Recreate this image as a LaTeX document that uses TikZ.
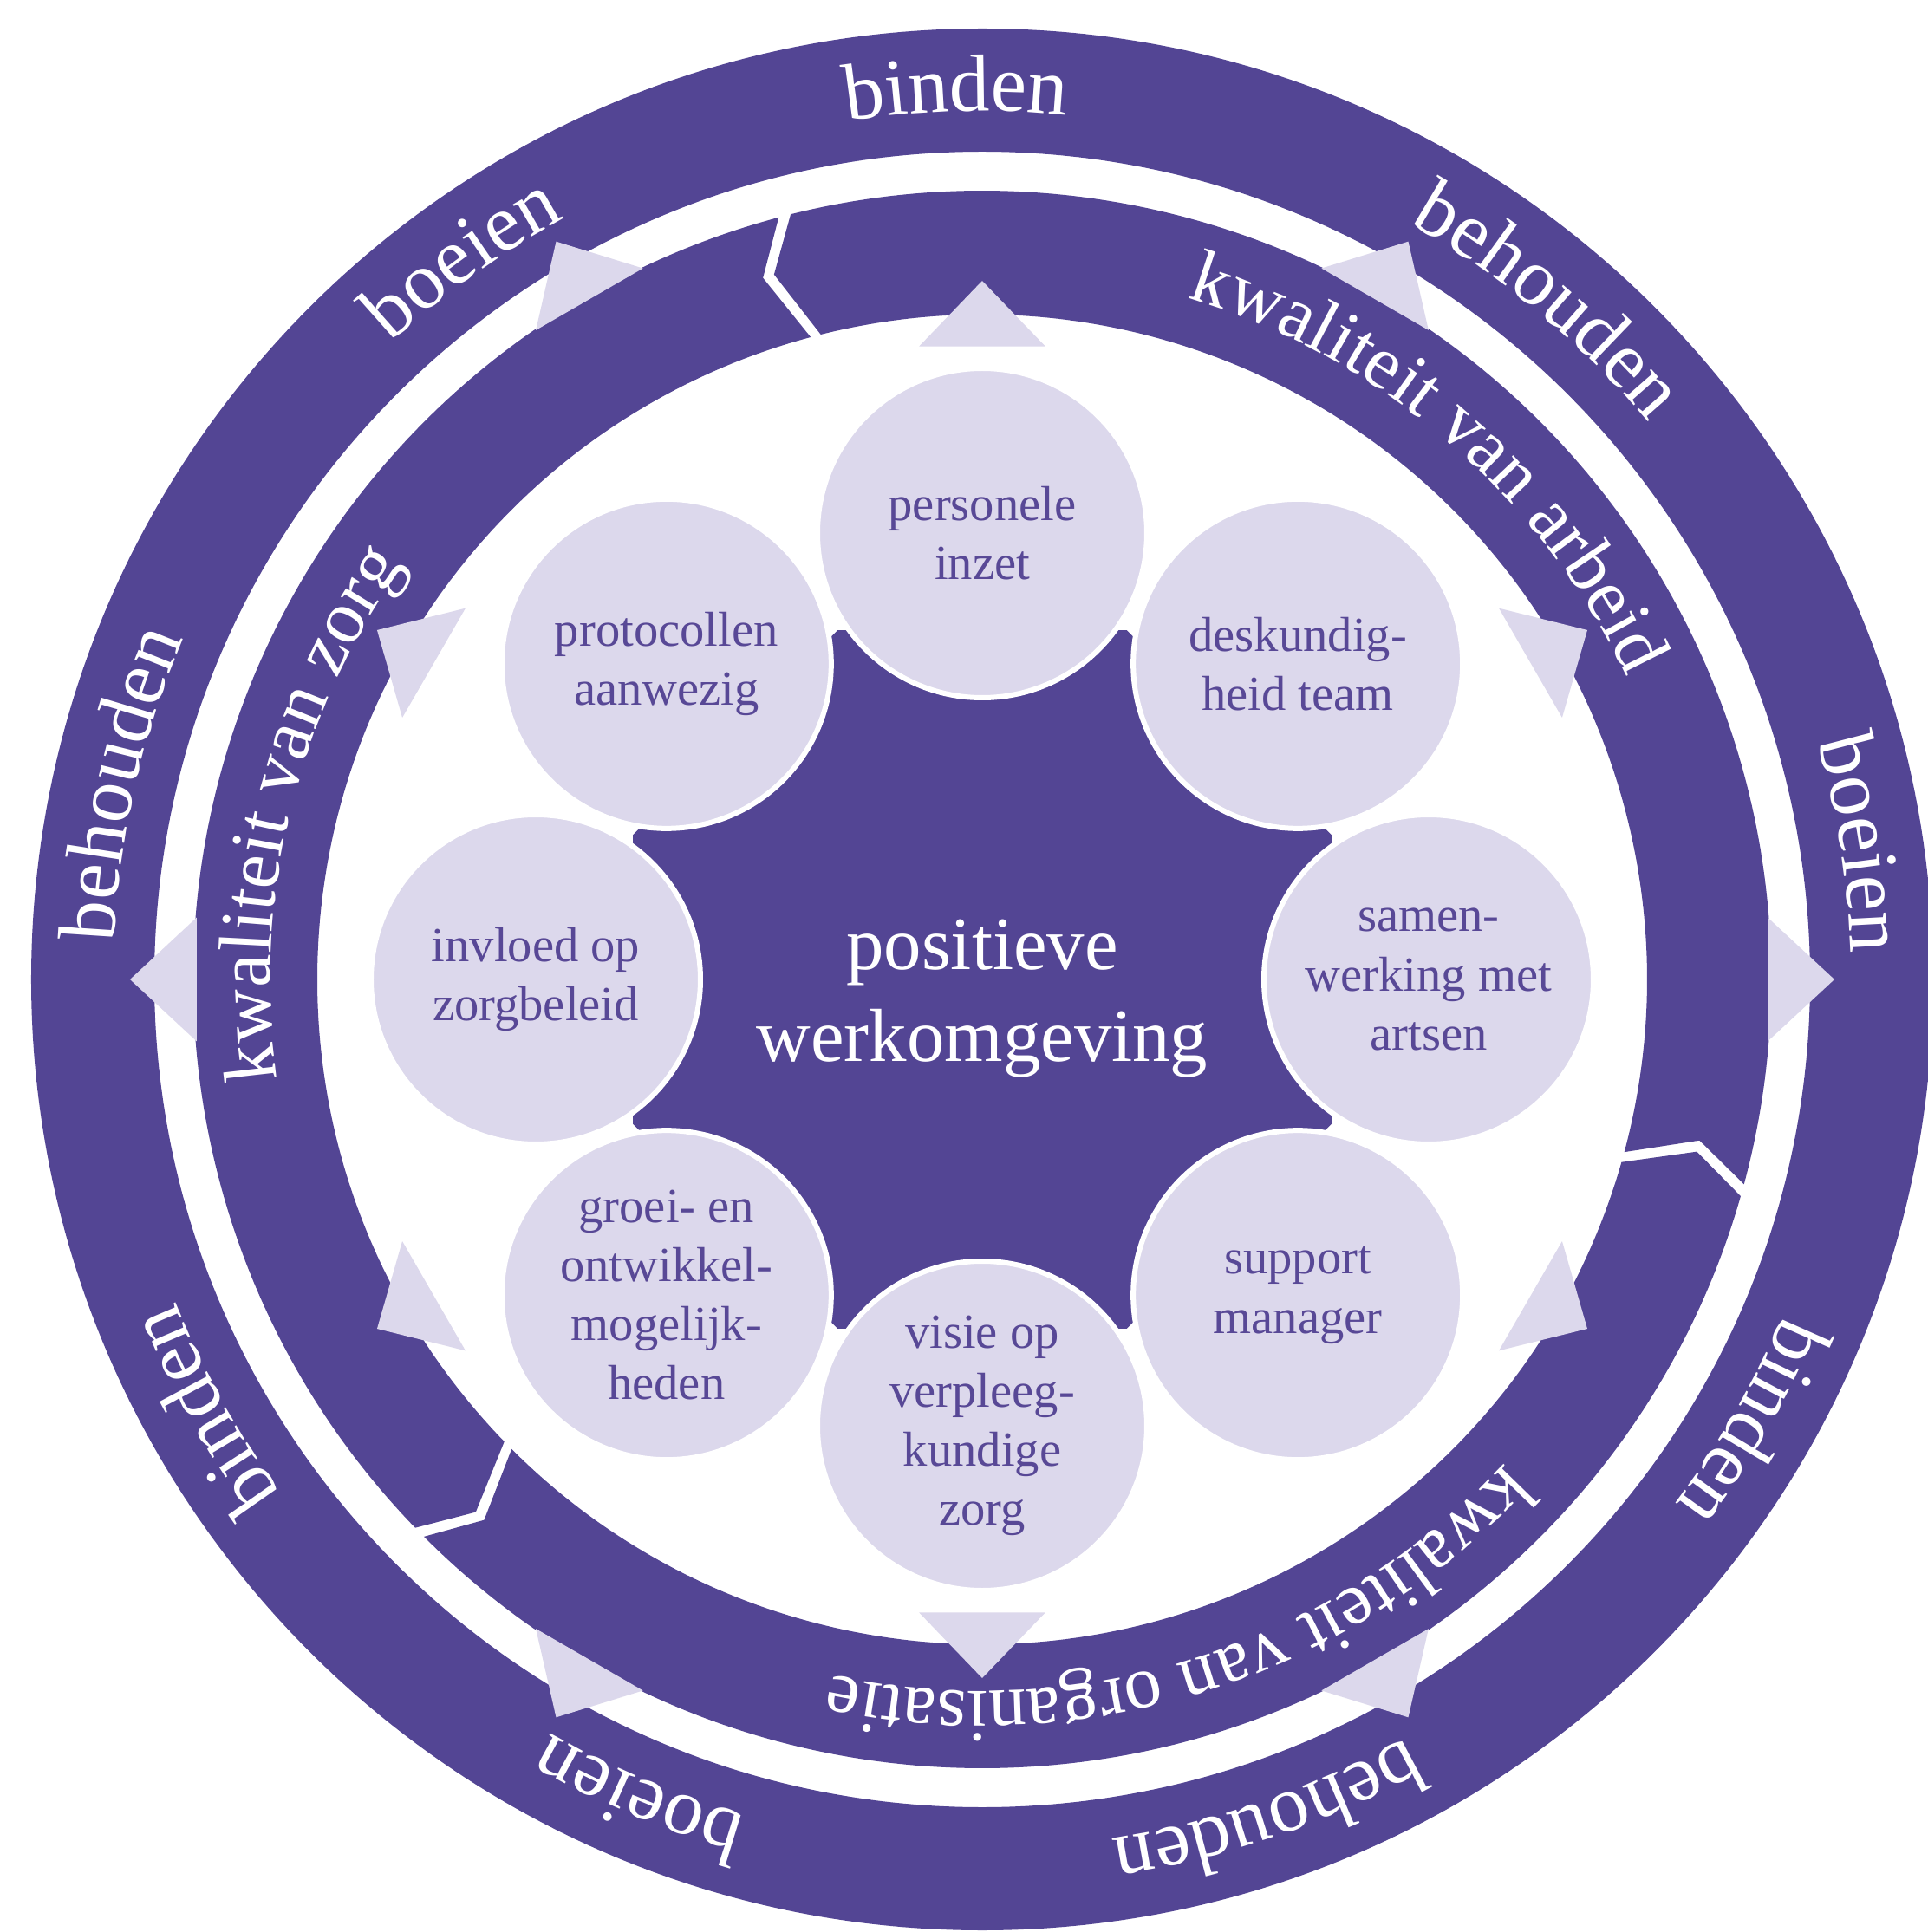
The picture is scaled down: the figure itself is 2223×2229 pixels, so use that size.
\documentclass[tikz,border=0pt]{standalone}
\usepackage{fontspec}
\setmainfont{Liberation Serif}
\usetikzlibrary{decorations.text}
\definecolor{dark}{RGB}{83,69,148}
\definecolor{lav}{RGB}{220,216,236}
\definecolor{ctext}{RGB}{88,72,150}
\newcommand{\outerfont}{\fontsize{26.5}{30}\selectfont}
\newcommand{\midfont}{\fontsize{24.7}{28}\selectfont}
\begin{document}
\begin{tikzpicture}[x=0.1mm,y=0.1mm,
  circ/.style={circle, fill=lav, draw=white, line width=0.6mm, minimum size=38mm, inner sep=0pt, align=center, text=ctext, font=\fontsize{16.1}{19.4}\selectfont},
  otext/.style={decorate, decoration={text along path, text align=center, text color=white, text={|\outerfont|#1}}},
  mtext/.style={decorate, decoration={text along path, text align=center, text color=white, text={|\midfont|#1}}}
]
\useasboundingbox (-1133,-1099) rectangle (1090,1130);
\fill[white] (-1133,-1099) rectangle (1090,1130);
% outer ring
\fill[dark, even odd rule] (0,0) circle[radius=1097] (0,0) circle[radius=955];
% middle ring segments
\fill[dark] (-15.05:910) arc[start angle=-15.05, end angle=104.05, radius=910] -- (106.45:848) -- (104.05:767) arc[start angle=104.05, end angle=-15.05, radius=767] -- (-12.65:848) -- cycle;
\fill[dark] (104.95:910) arc[start angle=104.95, end angle=224.05, radius=910] -- (226.45:848) -- (224.05:767) arc[start angle=224.05, end angle=104.95, radius=767] -- (107.35:848) -- cycle;
\fill[dark] (224.95:910) arc[start angle=224.95, end angle=344.05, radius=910] -- (346.45:848) -- (344.05:767) arc[start angle=344.05, end angle=224.95, radius=767] -- (227.35:848) -- cycle;
% outer triangles
\foreach \t in {0,60,...,300}{
  \fill[lav] ({\t-4.5}:909) -- (\t:983) -- ({\t+4.5}:909) -- cycle;
}
% inner triangles
\foreach \t in {30,90,...,330}{
  \fill[lav] ({\t-5.7}:734) -- (\t:806) -- ({\t+5.7}:734) -- cycle;
}
% central octagon
\fill[dark] (22.5:436) \foreach \a in {67.5,112.5,...,337.5}{ -- (\a:436)} -- cycle;
% circles
\node[circ] (n1) at (90:515) {personele\\inzet};
\node[circ] (n2) at (45:515) {deskundig-\\heid team};
\node[circ] (n3) at (0:515) {samen-\\werking met\\artsen};
\node[circ] (n4) at (-45:515) {support\\manager};
\node[circ] (n5) at (-90:515) {visie op\\verpleeg-\\kundige\\zorg};
\node[circ] (n6) at (-135:515) {groei- en\\ontwikkel-\\mogelijk-\\heden};
\node[circ] (n7) at (180:515) {invloed op\\zorgbeleid};
\node[circ] (n8) at (135:515) {protocollen\\aanwezig};
\node[text=white, align=center, font=\fontsize{24.7}{30}\selectfont] (ctr) at (0,-22) {positieve\\werkomgeving};
% outer ring texts
\path[otext={binden}] (116.7:1002) arc[start angle=116.7, end angle=66.7, radius=1002];
\path[otext={behouden}] (75.2:1002) arc[start angle=75.2, end angle=25.2, radius=1002];
\path[otext={boeien}] (33.8:1002) arc[start angle=33.8, end angle=-16.2, radius=1002];
\path[otext={binden}] (355.1:1002) arc[start angle=355.1, end angle=305.1, radius=1002];
\path[otext={behouden}] (313.9:1002) arc[start angle=313.9, end angle=263.9, radius=1002];
\path[otext={boeien}] (272.2:1002) arc[start angle=272.2, end angle=222.2, radius=1002];
\path[otext={binden}] (234:1002) arc[start angle=234, end angle=184, radius=1002];
\path[otext={behouden}] (192.2:1002) arc[start angle=192.2, end angle=142.2, radius=1002];
\path[otext={boeien}] (150.8:1002) arc[start angle=150.8, end angle=100.8, radius=1002];
% middle ring texts
\path[mtext={kwaliteit van arbeid}] (94.2:821) arc[start angle=94.2, end angle=4.2, radius=821];
\path[mtext={kwaliteit van zorg}] (211.2:821) arc[start angle=211.2, end angle=121.2, radius=821];
\path[mtext={kwaliteit van organisatie}] (-27.5:821) arc[start angle=-27.5, end angle=-117.5, radius=821];
\end{tikzpicture}
\end{document}
